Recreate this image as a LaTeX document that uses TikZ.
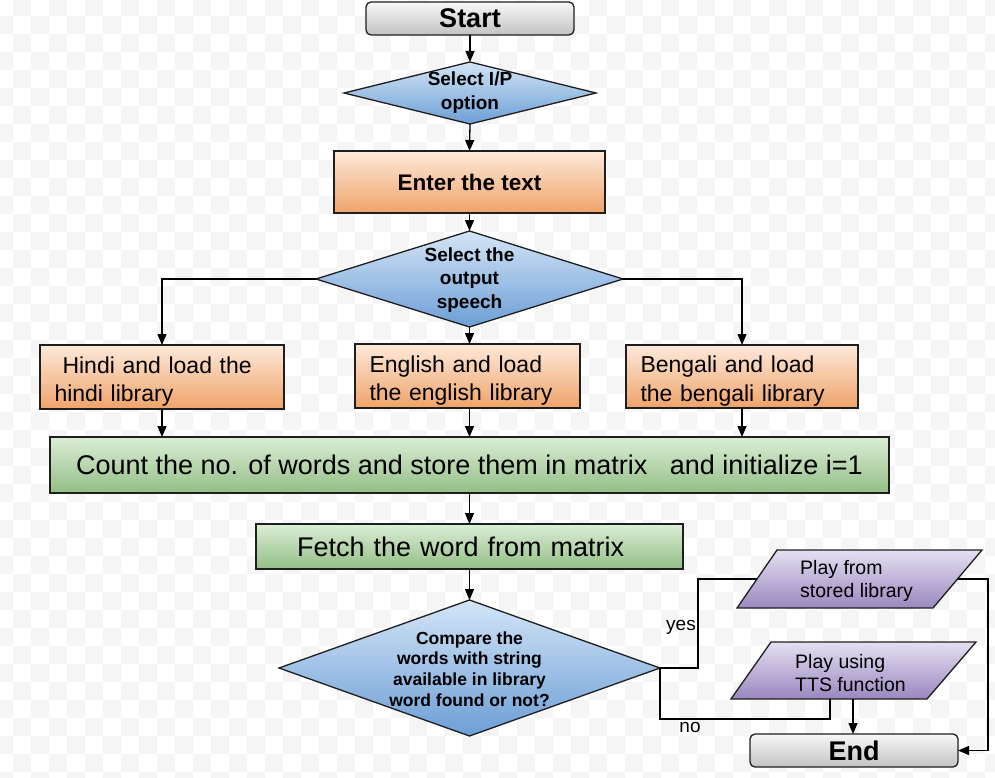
\documentclass[tikz,border=0pt]{standalone}
\usepackage{fontspec}
\setmainfont{Liberation Sans}
\usetikzlibrary{shapes.geometric,arrows.meta}
\definecolor{chk}{HTML}{F5F5F5}
\definecolor{edge}{HTML}{1E1E1E}
\definecolor{termT}{HTML}{F8F8F8}
\definecolor{termB}{HTML}{C2C2C2}
\definecolor{diaT}{HTML}{D3E5F6}
\definecolor{diaB}{HTML}{6C9ED6}
\definecolor{orgT}{HTML}{FDE9DA}
\definecolor{orgB}{HTML}{EFA369}
\definecolor{grnT}{HTML}{DCEDD6}
\definecolor{grnB}{HTML}{93BE85}
\definecolor{purT}{HTML}{E5DFF0}
\definecolor{purB}{HTML}{9A87C0}
\newcommand{\upstrut}{\rule{0pt}{26pt}}
\begin{document}
\begin{tikzpicture}[x=1pt,y=-1pt,
  box/.style={draw=edge, line width=1.3pt, rectangle, inner sep=0pt, outer sep=0pt},
  term/.style={box, rounded corners=5pt, top color=termT, bottom color=termB,
    minimum width=208pt, minimum height=33pt, font=\fontsize{27}{30}\selectfont\bfseries},
  dia/.style={draw=edge, line width=1.3pt, diamond, inner sep=0pt, outer sep=0pt,
    top color=diaT, bottom color=diaB},
  dtext/.style={inner sep=0pt, align=center},
  org/.style={box, top color=orgT, bottom color=orgB},
  lib/.style={org, minimum height=64pt, inner xsep=14.5pt, align=left,
    font=\fontsize{23}{28.5}\selectfont},
  grn/.style={box, top color=grnT, bottom color=grnB, font=\fontsize{27}{30}\selectfont},
  para/.style={draw=edge, line width=1.3pt, top color=purT, bottom color=purB},
  ptext/.style={inner sep=0pt, align=left, anchor=west, font=\fontsize{19.5}{23}\selectfont},
  lbl/.style={inner sep=0pt, font=\fontsize{19}{22}\selectfont},
  conn/.style={draw=black, line width=1.3pt},
  arr/.style={conn, -{Triangle[length=11pt,width=9pt]}},
]
\useasboundingbox (0,0) rectangle (995,778);
\fill[white] (0,0) rectangle (995,778);
\begin{scope}
\clip (0,0) rectangle (995,778);
\foreach \r in {0,...,43}{
  \pgfmathtruncatemacro{\off}{mod(\r+1,2)}
  \foreach \c in {0,...,27}{
    \fill[chk] ({-5+18*(2*\c+\off)},{-2+18*\r}) rectangle ++(18,18);
  }
}
\end{scope}

% nodes
\node[term] (start) at (470,18.5) {Start};
\node[dia, minimum width=252pt, minimum height=62pt] (d1) at (470,93) {};
\node[dtext, font=\fontsize{19}{24}\selectfont\bfseries] (d1t) at (470,93) {Select I/P\\option};
\node[org, minimum width=271pt, minimum height=62pt, font=\fontsize{22.5}{26}\selectfont\bfseries] (enter) at (469.5,182) {Enter the text};
\node[dia, minimum width=307pt, minimum height=96pt] (d2) at (469.5,279) {};
\node[dtext, font=\fontsize{19}{23.5}\selectfont\bfseries] (d2t) at (469.5,280) {Select the\\output\\speech};
\node[lib, minimum width=244pt, text width=215pt] (hin) at (162,377) {\upstrut\hspace*{8pt}Hindi and load the\\hindi library};
\node[lib, minimum width=225pt, text width=196pt] (eng) at (467.5,376) {\upstrut English and load\\the english library};
\node[lib, minimum width=232pt, text width=203pt, minimum height=63pt] (ben) at (742,376.5) {\upstrut Bengali and load\\the bengali library};
\node[grn, minimum width=839pt, minimum height=56pt] (cnt) at (469.5,465) {Count the no. of words and store them in matrix\hspace{0.834em}and initialize i=1};
\node[grn, minimum width=427pt, minimum height=45pt, inner xsep=41pt, text width=345pt, align=left] (fet) at (469.5,546.5) {Fetch the word from matrix};
\node[dia, minimum width=381pt, minimum height=136pt] (d3) at (469.5,668) {};
\node[dtext, font=\fontsize{17.5}{20.7}\selectfont\bfseries] (d3t) at (469.5,669) {Compare the\\words with string\\available in library\\word found or not?};

% parallelograms
\path[para] (777,550) -- (982,550) -- (933,608) -- (737,608) -- cycle;
\node[ptext] (p1) at (800,580.5) {Play from\\stored library};
\path[para] (771,642) -- (976,642) -- (927,699) -- (731,699) -- cycle;
\node[ptext] (p2) at (795,673.5) {Play using\\TTS function};
\coordinate (p1w) at (757,579);
\coordinate (p1e) at (957.5,579);
\coordinate (p2sa) at (830,699);
\coordinate (p2sb) at (853,699);
\coordinate (yk) at (698,579);
\coordinate (nk) at (830,719);
\coordinate (rk) at (988,579);

\node[term] (end) at (854,750.5) {End};

\node[lbl] (yes) at (681,627) {yes};
\node[lbl] (no) at (690,727) {no};

% connectors
\draw[arr] (start.south) -- (d1.north);
\draw[arr] (d1.south) -- (enter.north);
\draw[arr] (enter.south) -- (d2.north);
\draw[arr] (d2.south) -- (d2.south |- eng.north);
\draw[arr] (d2.west) -| (hin.north);
\draw[arr] (d2.east) -| (ben.north);
\draw[arr] (hin.south) -- (hin.south |- cnt.north);
\draw[arr] (d2.south |- eng.south) -- (d2.south |- cnt.north);
\draw[arr] (ben.south) -- (ben.south |- cnt.north);
\draw[arr] (cnt.south) -- (fet.north);
\draw[arr] (fet.south) -- (d3.north);
\draw[conn] (d3.east) -| (yk) -- (p1w);
\draw[conn] (d3.east) |- (nk) -- (p2sa);
\draw[arr] (p2sb) -- (p2sb |- end.north);
\draw[arr] (p1e) -- (rk) |- (end.east);
\end{tikzpicture}
\end{document}
